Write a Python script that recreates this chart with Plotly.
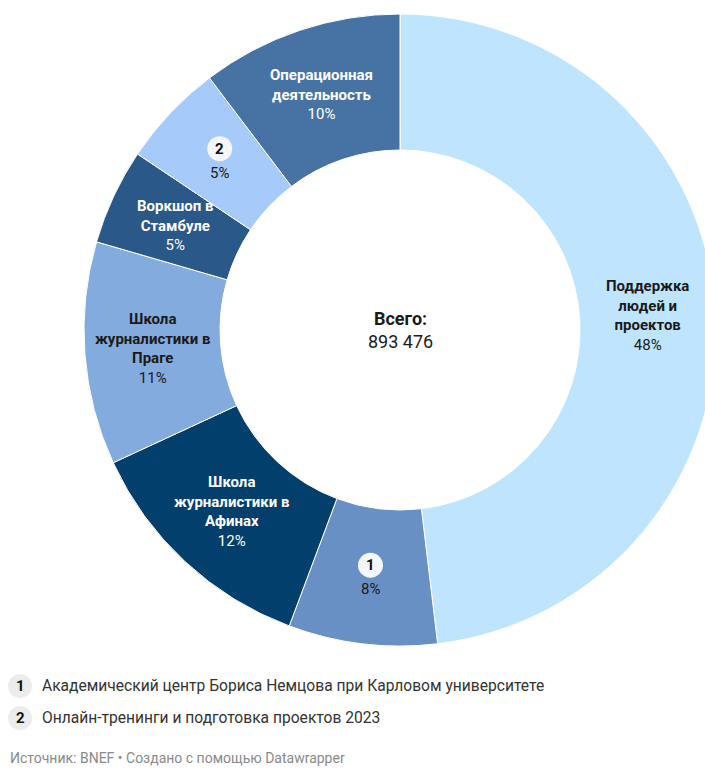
import math
import plotly.graph_objects as go

# ---------------- data ----------------
categories = [
    "Поддержка людей и проектов",
    "Академический центр Бориса Немцова при Карловом университете",
    "Школа журналистики в Афинах",
    "Школа журналистики в Праге",
    "Воркшоп в Стамбуле",
    "Онлайн-тренинги и подготовка проектов 2023",
    "Операционная деятельность",
]
label_lines = [
    ["Поддержка", "людей и", "проектов"],
    None,
    ["Школа", "журналистики в", "Афинах"],
    ["Школа", "журналистики в", "Праге"],
    ["Воркшоп в", "Стамбуле"],
    None,
    ["Операционная", "деятельность"],
]
badges = [None, "1", None, None, None, "2", None]
shares = [48.1, 7.6, 12.4, 11.4, 4.9, 5.3, 10.3]
total_label = "893 476"
footnotes = [
    ("1", "Академический центр Бориса Немцова при Карловом университете"),
    ("2", "Онлайн-тренинги и подготовка проектов 2023"),
]
source_text = "Источник: BNEF • Создано с помощью Datawrapper"

# ---------------- style ----------------
colors = ["#bee5fd", "#6890c4", "#023f6d", "#84abde", "#2a5888", "#a6cafa", "#4673a4"]
text_colors = ["#1a1a1a", "#1a1a1a", "#ffffff", "#1a1a1a", "#ffffff", "#1a1a1a", "#ffffff"]
FONT = "Roboto"
W, H = 720, 769
CX, CY, R_OUT, R_IN = 400, 330, 316, 180


def px(x):
    return x / W


def py(y):
    return 1 - y / H


fig = go.Figure()
fig.add_trace(go.Pie(
    labels=categories,
    values=shares,
    sort=False,
    direction="clockwise",
    rotation=0,
    hole=R_IN / R_OUT,
    marker=dict(colors=colors, line=dict(color="#ffffff", width=1)),
    textinfo="none",
    hoverinfo="label+percent",
    showlegend=False,
    domain=dict(x=[px(CX - R_OUT), px(CX + R_OUT)], y=[py(CY + R_OUT), py(CY - R_OUT)]),
))

annotations = []
shapes = []
tot = sum(shares)
cum = 0.0
r_mid = (R_OUT + R_IN) / 2
for i, v in enumerate(shares):
    mid = (cum + v / 2) / tot * 2 * math.pi
    cum += v
    lx = CX + r_mid * math.sin(mid)
    ly = CY - r_mid * math.cos(mid)
    pct = f"{round(v / tot * 100)}%"
    col = text_colors[i]
    if badges[i] is None:
        txt = "<br>".join(f"<b>{l}</b>" for l in label_lines[i]) + "<br>" + pct
        annotations.append(dict(x=px(lx), y=py(ly), xref="paper", yref="paper", text=txt,
                                showarrow=False, xanchor="center", yanchor="middle",
                                font=dict(family=FONT, size=15, color=col)))
    else:
        by = ly - 11
        shapes.append(dict(type="circle", xref="paper", yref="paper", xsizemode="pixel",
                           ysizemode="pixel", xanchor=px(lx), yanchor=py(by),
                           x0=-12.5, x1=12.5, y0=-12.5, y1=12.5,
                           fillcolor="#f4f6f9", line=dict(width=0)))
        annotations.append(dict(x=px(lx), y=py(by), xref="paper", yref="paper",
                                text=f"<b>{badges[i]}</b>", showarrow=False,
                                xanchor="center", yanchor="middle",
                                font=dict(family=FONT, size=15, color="#111111")))
        annotations.append(dict(x=px(lx), y=py(ly + 13), xref="paper", yref="paper",
                                text=pct, showarrow=False, xanchor="center", yanchor="middle",
                                font=dict(family=FONT, size=15, color=col)))

# centre total
annotations.append(dict(x=px(CX), y=py(CY), xref="paper", yref="paper",
                        text=f"<b>Всего:</b><br>{total_label}", showarrow=False,
                        xanchor="center", yanchor="middle",
                        font=dict(family=FONT, size=18, color="#1a1a1a")))

# footnotes
for k, (num, txt) in enumerate(footnotes):
    yy = 686 + 32 * k
    shapes.append(dict(type="circle", xref="paper", yref="paper", xsizemode="pixel",
                       ysizemode="pixel", xanchor=px(20), yanchor=py(yy),
                       x0=-12, x1=12, y0=-12, y1=12, fillcolor="#ececec", line=dict(width=0)))
    annotations.append(dict(x=px(20), y=py(yy), xref="paper", yref="paper",
                            text=f"<b>{num}</b>", showarrow=False, xanchor="center",
                            yanchor="middle", font=dict(family=FONT, size=15, color="#111111")))
    annotations.append(dict(x=px(40), y=py(yy), xref="paper", yref="paper", text=txt,
                            showarrow=False, xanchor="left", yanchor="middle",
                            font=dict(family=FONT, size=15.6, color="#333333")))

annotations.append(dict(x=px(8), y=py(768), xref="paper", yref="paper", text=source_text,
                        showarrow=False, xanchor="left", yanchor="bottom",
                        font=dict(family=FONT, size=14, color="#8a8a8a")))

fig.update_layout(
    width=W, height=H, autosize=False,
    margin=dict(l=0, r=0, t=0, b=0, pad=0),
    paper_bgcolor="#ffffff", plot_bgcolor="#ffffff",
    annotations=annotations, shapes=shapes,
    font=dict(family=FONT),
)

fig.write_html("out.html", config={"displayModeBar": False},
               post_script="document.body.style.margin='0';document.body.style.overflow='hidden';")
